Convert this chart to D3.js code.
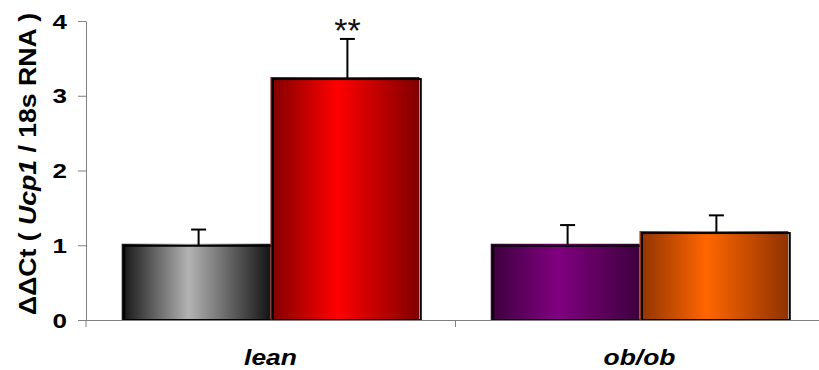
<!DOCTYPE html>
<html>
<head>
<meta charset="utf-8">
<script src="https://cdn.jsdelivr.net/npm/d3@7"></script>
<style>
  html, body { margin: 0; padding: 0; background: #fff; }
  svg { display: block; }
  text { font-family: Arial, "Liberation Sans", sans-serif; }
</style>
</head>
<body>
<svg id="chart" width="819" height="370"></svg>
<script>
// Groups on the x axis and the two bars drawn in each group
const groups = ["lean", "ob/ob"];
const series = ["control", "treated"];

// Bar heights (ΔΔCt) and standard errors, per group
const leanValues = [1.02, 3.25];
const leanErrors = [0.19, 0.51];
const obobValues = [1.02, 1.19];
const obobErrors = [0.25, 0.21];

// Significance marks written above the error bars
const leanMarks = ["", "**"];
const obobMarks = ["", ""];

const yTicks = [0, 1, 2, 3, 4];

// Edge / centre colours of each bar's horizontal gradient
const edgeColors = ["#141414", "#800000", "#3e003e", "#8f3300"];
const centerColors = ["#b3b3b3", "#ff0000", "#800080", "#ff6600"];

const rows = [
  ...series.map((s, i) => ({ group: groups[0], s, value: leanValues[i], err: leanErrors[i], mark: leanMarks[i] })),
  ...series.map((s, i) => ({ group: groups[1], s, value: obobValues[i], err: obobErrors[i], mark: obobMarks[i] }))
];

const svg = d3.select("#chart");
const plotLeft = 86, plotTop = 21, plotBottom = 320;
const groupWidth = 369;

const x0 = d3.scaleBand().domain(groups).range([plotLeft, plotLeft + groupWidth * groups.length]);
const x1 = d3.scaleBand().domain(series).range([0, x0.bandwidth()]).paddingInner(0).paddingOuter(0.24);
const y = d3.scaleLinear().domain([0, 4]).range([plotBottom, plotTop]);

// gradients: dark at both sides, bright just left of centre
const defs = svg.append("defs");
rows.forEach((d, i) => {
  const g = defs.append("linearGradient").attr("id", "grad" + i)
    .attr("x1", "0%").attr("x2", "100%").attr("y1", "0%").attr("y2", "0%");
  g.append("stop").attr("offset", "0%").attr("stop-color", edgeColors[i]);
  g.append("stop").attr("offset", "45%").attr("stop-color", centerColors[i]);
  g.append("stop").attr("offset", "100%").attr("stop-color", edgeColors[i]);
});

const shiftX = 2.5, shiftY = 2;

const bars = svg.append("g");
rows.forEach((d, i) => {
  const bx = x0(d.group) + x1(d.s);
  const bw = x1.bandwidth();
  const by = y(d.value);
  bars.append("rect")
    .attr("x", bx).attr("y", by)
    .attr("width", bw).attr("height", y(0) - by)
    .attr("fill", `url(#grad${i})`);
  bars.append("rect")
    .attr("x", bx + shiftX).attr("y", by + shiftY)
    .attr("width", bw - 1).attr("height", y(0) - by - shiftY)
    .attr("fill", "none").attr("stroke", "#000").attr("stroke-width", 2);

  // error bar (upper whisker only)
  const cx = bx + shiftX + bw / 2;
  bars.append("line")
    .attr("x1", cx).attr("x2", cx)
    .attr("y1", by + shiftY).attr("y2", y(d.value + d.err))
    .attr("stroke", "#000").attr("stroke-width", 2);
  bars.append("line")
    .attr("x1", cx - 7.5).attr("x2", cx + 7.5)
    .attr("y1", y(d.value + d.err)).attr("y2", y(d.value + d.err))
    .attr("stroke", "#000").attr("stroke-width", 2);

  if (d.mark) {
    bars.append("text")
      .attr("x", cx).attr("y", y(d.value + d.err) + 3)
      .attr("text-anchor", "middle")
      .attr("font-size", 34)
      .attr("fill", "#111")
      .text(d.mark);
  }
});

// y axis
const yAxis = svg.append("g")
  .attr("transform", `translate(${plotLeft},0)`)
  .call(d3.axisLeft(y).tickValues(yTicks).tickSize(8).tickSizeOuter(0).tickFormat(d3.format("d")));
yAxis.select(".domain").attr("stroke", "#808080");
yAxis.selectAll(".tick line").attr("stroke", "#808080");
yAxis.selectAll(".tick text")
  .attr("x", -19 / 1.3).attr("dy", "0.36em")
  .attr("transform", "scale(1.3,1)")
  .attr("font-size", 20).attr("font-weight", "bold")
  .attr("font-family", "Arial, 'Liberation Sans', sans-serif")
  .attr("fill", "#000");
// y axis continues a little below the baseline
svg.append("line")
  .attr("x1", plotLeft).attr("x2", plotLeft).attr("y1", plotBottom).attr("y2", plotBottom + 7)
  .attr("stroke", "#808080");

// x axis with ticks at group boundaries
const xa = svg.append("g");
xa.append("line")
  .attr("x1", plotLeft).attr("x2", x0.range()[1])
  .attr("y1", plotBottom + 0.5).attr("y2", plotBottom + 0.5)
  .attr("stroke", "#808080");
groups.slice(1).forEach(g => {
  xa.append("line")
    .attr("x1", x0(g) + 0.5).attr("x2", x0(g) + 0.5)
    .attr("y1", plotBottom).attr("y2", plotBottom + 7)
    .attr("stroke", "#808080");
});
groups.forEach(g => {
  const cx = x0(g) + x1(series[0]) + x1.bandwidth();
  xa.append("text")
    .attr("transform", `translate(${cx},365) scale(1.2,1)`)
    .attr("text-anchor", "middle")
    .attr("font-size", 22).attr("font-weight", "bold").attr("font-style", "italic")
    .attr("fill", "#000")
    .text(g);
});

// y axis title
const title = svg.append("text")
  .attr("transform", "translate(36,164) rotate(-90)")
  .attr("text-anchor", "middle")
  .attr("font-size", 24).attr("font-weight", "bold")
  .attr("textLength", 302).attr("lengthAdjust", "spacingAndGlyphs")
  .attr("fill", "#000");
title.append("tspan").text("ΔΔCt ( ");
title.append("tspan").attr("font-style", "italic").text("Ucp1");
title.append("tspan").text(" / 18s RNA )");
</script>
</body>
</html>
